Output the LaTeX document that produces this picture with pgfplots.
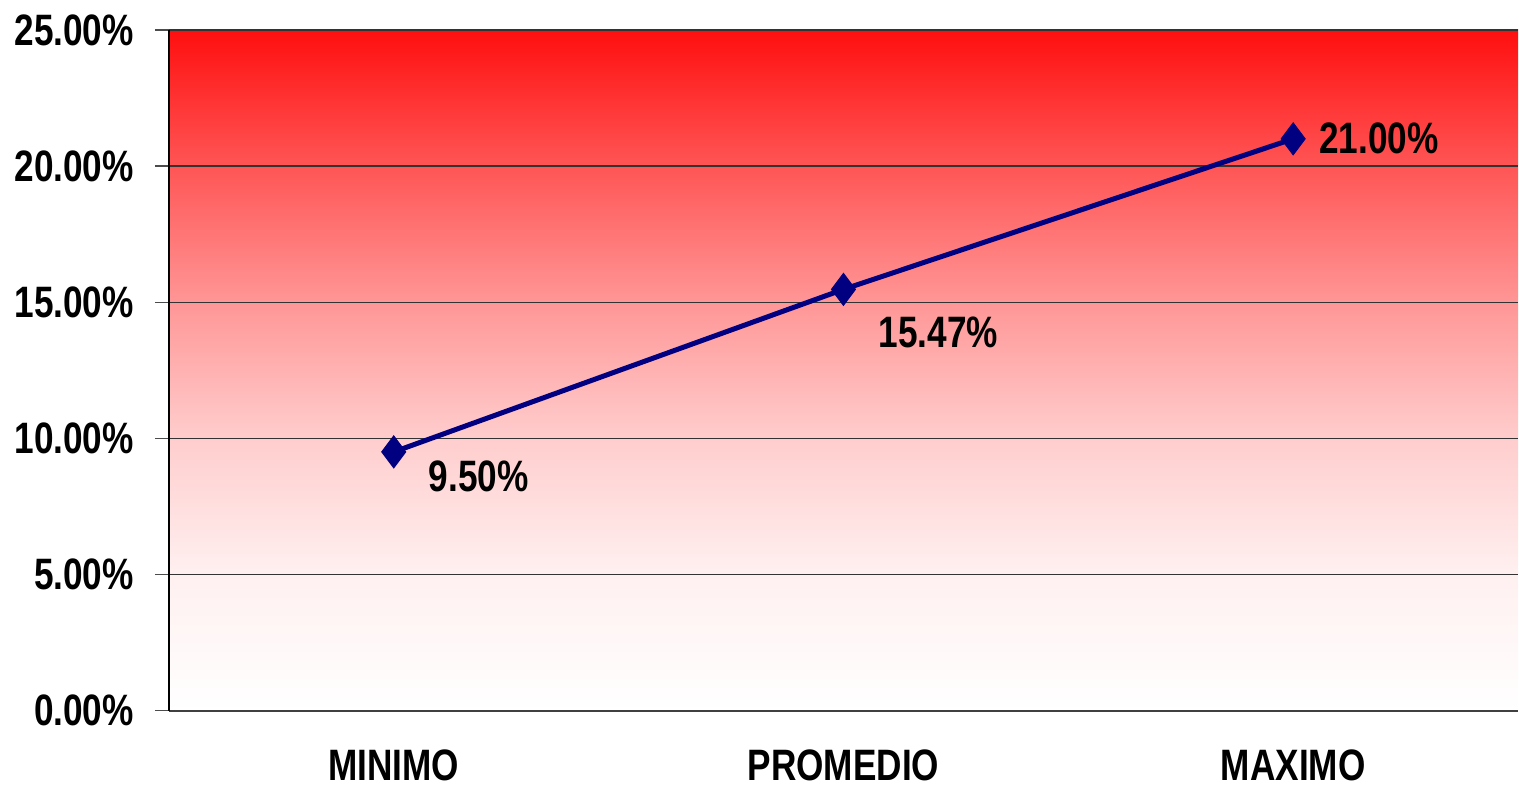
\documentclass[border=0pt]{standalone}
\usepackage{fontspec}
\setmainfont{Liberation Sans}[FakeStretch=0.8]
\usepackage{pgfplots}
\pgfplotsset{compat=1.18}

\definecolor{navyline}{RGB}{0,0,128}
\definecolor{rA}{RGB}{255,15,15}
\definecolor{rB}{RGB}{255,85,85}
\definecolor{rC}{RGB}{255,150,150}
\definecolor{rD}{RGB}{255,205,205}
\definecolor{rE}{RGB}{255,240,240}
\pgfdeclareverticalshading{redfade}{100bp}{%
  color(0bp)=(white); color(25bp)=(white); color(35bp)=(rE);
  color(45bp)=(rD); color(55bp)=(rC); color(65bp)=(rB);
  color(75bp)=(rA); color(100bp)=(rA)}

\pgfplotstableread{
x y dx dy
1 9.50 14 -12
2 15.47 14 -21.5
3 21.00 9.5 0
}\tasas

\begin{document}
\begin{tikzpicture}
\begin{axis}[
  name=ax,
  scale only axis,
  width=675pt, height=340.5pt,
  xmin=0.5, xmax=3.5,
  ymin=0, ymax=25,
  axis x line*=bottom,
  axis y line*=left,
  axis line style={black, line width=0.8pt},
  x axis line style={black!75, line width=1pt},
  axis background/.style={shading=redfade},
  font=\fontsize{22}{26}\selectfont\bfseries,
  /pgf/number format/assume math mode=true,
  ytick={0,5,...,25},
  yticklabel={\pgfmathprintnumber[fixed,fixed zerofill,precision=2]{\tick}\%},
  yticklabel style={xshift=-7pt},
  ymajorgrids,
  major grid style={black!80, line width=0.6pt},
  tick align=outside,
  major tick length=7pt,
  tick style={black!70, line width=0.6pt},
  xtick={1,2,3},
  xticklabels={MINIMO,PROMEDIO,MAXIMO},
  major x tick style={draw=none},
  xticklabel style={yshift=-9pt},
  extra x ticks={0.5,1.5,2.5},
  extra x tick labels={},
  extra x tick style={major tick length=6pt, tick style={black!70, line width=0.6pt}},
  clip=false,
]
\addplot[navyline, line width=2.5pt, mark=diamond*,
  mark size=8pt, mark options={fill=navyline, line width=0.5pt},
  point meta=y,
  visualization depends on={\thisrow{dx}\as\dx},
  visualization depends on={\thisrow{dy}\as\dy},
  nodes near coords={\pgfmathprintnumber[fixed,fixed zerofill,precision=2]{\pgfplotspointmeta}\%},
  nodes near coords style={anchor=west, xshift=\dx pt, yshift=\dy pt, black,
    font=\fontsize{22}{26}\selectfont\bfseries},
] table[x=x, y=y] {\tasas};
\end{axis}
\path[use as bounding box] ([xshift=-84.5pt,yshift=-35pt]ax.south west)
  rectangle ([yshift=15pt]ax.north east);
\end{tikzpicture}
\end{document}
